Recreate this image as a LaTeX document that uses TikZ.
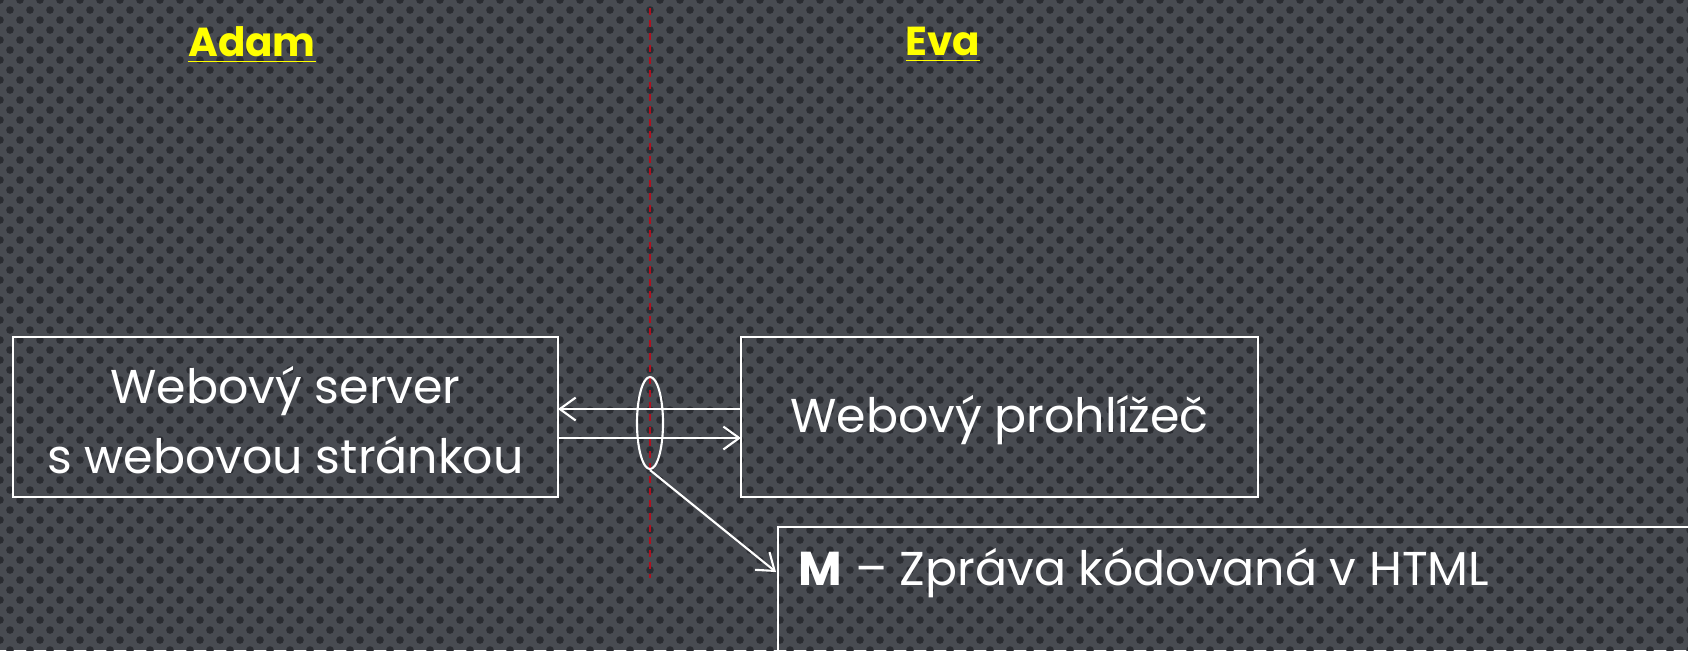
\documentclass[tikz,border=0pt]{standalone}
\usepackage{fontspec}
\setmainfont{Poppins}
\usetikzlibrary{arrows.meta,shapes.geometric}
\definecolor{bgcol}{HTML}{484B51}
\definecolor{dotcol}{HTML}{2A2C31}
\definecolor{adamyellow}{HTML}{FFFF00}
\definecolor{linered}{HTML}{B01020}
\begin{document}
\begin{tikzpicture}[x=0.01cm,y=-0.01cm,line width=0.6pt,
  box/.style={draw=white,line width=0.8pt},
  label text/.style={text=white,font=\fontsize{13.5}{20}\selectfont,align=center},
  person/.style={text=adamyellow,font=\fontsize{11.5}{14}\bfseries},
  msg/.style={draw=white,-{Straight Barb[length=4.5pt,width=6.5pt]}}]
\useasboundingbox (0,0) rectangle (1688,650);
\clip (0,0) rectangle (1688,650);
% background
\fill[bgcol] (0,0) rectangle (1688,650);
\foreach \r in {0,...,65}{
  \pgfmathsetmacro{\off}{mod(\r,2)*10}
  \foreach \c in {0,...,85}{
    \fill[dotcol] (\c*20+\off,\r*10) circle (3.8);
  }
}
% divider
\draw[linered,dashed,line width=0.4pt,dash pattern=on 2pt off 1.5pt] (650,8) -- (650,578);
% names
\node[person] (adam) at (252,45) {\underline{Adam}};
\node[person] (eva) at (943,45) {\underline{Eva}};
% boxes
\draw[box] (13,337) rectangle (558,497);
\node[label text] (server) at (285.5,420) {Webový server\\s webovou stránkou};
\draw[box] (741,337) rectangle (1258,497);
\node[label text] (browser) at (999.5,420) {Webový prohlížeč};
\coordinate (srvE1) at (558,409);
\coordinate (srvE2) at (558,438);
\coordinate (brwW1) at (741,409);
\coordinate (brwW2) at (741,438);
\draw[msg] (brwW1) -- (srvE1);
\draw[msg] (srvE2) -- (brwW2);
% message
\node[draw=white,line width=0.6pt,ellipse,minimum width=0.26cm,minimum height=0.92cm,inner sep=0pt] (m) at (650,423) {};
\draw[box] (778,527) rectangle (1700,660);
\node[label text,anchor=base west] (mtext) at (786,585) {\textbf{M} -- Zpráva kódovaná v HTML};
\coordinate (mbox) at (776,572);
\draw[msg,line width=0.6pt] (m.south) -- (mbox);
\end{tikzpicture}
\end{document}
